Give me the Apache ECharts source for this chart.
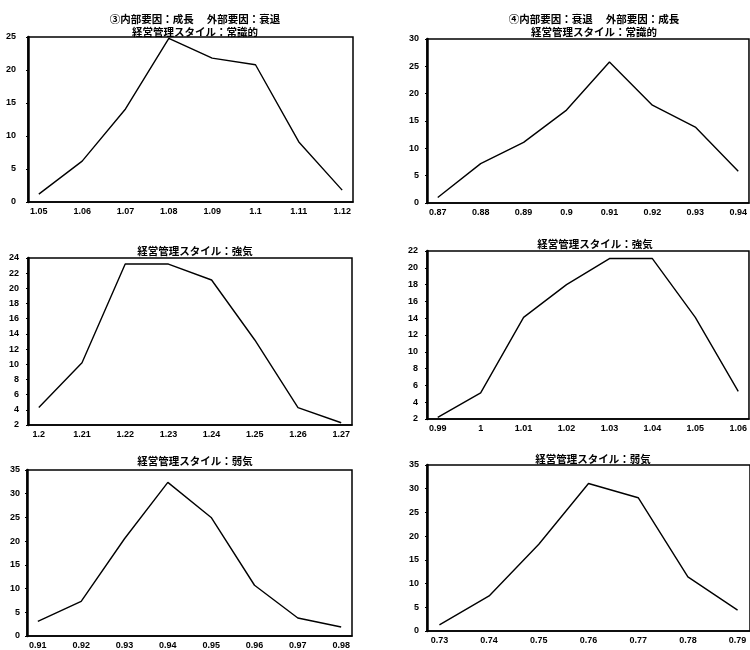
<!DOCTYPE html>
<html><head><meta charset="utf-8">
<script src="https://cdn.jsdelivr.net/npm/echarts@6/dist/echarts.min.js"></script>
<style>html,body{margin:0;padding:0;background:#fff}#c{width:750px;height:650px}</style>
</head><body><div id="c"></div>
<script>
// Titles
const titles = [
  '③内部要因：成長　 外部要因：衰退\n経営管理スタイル：常識的',
  '④内部要因：衰退　 外部要因：成長\n経営管理スタイル：常識的',
  '経営管理スタイル：強気',
  '経営管理スタイル：強気',
  '経営管理スタイル：弱気',
  '経営管理スタイル：弱気'
];
// Categories (x tick labels)
const xLabels1 = ['1.05','1.06','1.07','1.08','1.09','1.1','1.11','1.12'];
const xLabels2 = ['0.87','0.88','0.89','0.9','0.91','0.92','0.93','0.94'];
const xLabels3 = ['1.2','1.21','1.22','1.23','1.24','1.25','1.26','1.27'];
const xLabels4 = ['0.99','1','1.01','1.02','1.03','1.04','1.05','1.06'];
const xLabels5 = ['0.91','0.92','0.93','0.94','0.95','0.96','0.97','0.98'];
const xLabels6 = ['0.73','0.74','0.75','0.76','0.77','0.78','0.79'];
// Series values
const values1 = [1.2, 6.2, 14.1, 24.8, 21.8, 20.8, 9.1, 1.8];
const values2 = [1.0, 7.2, 11.1, 17.0, 25.8, 17.9, 13.9, 5.8];
const values3 = [4.3, 10.2, 23.2, 23.2, 21.1, 13.2, 4.3, 2.3];
const values4 = [2.2, 5.1, 14.1, 18.0, 21.1, 21.1, 14.1, 5.3];
const values5 = [3.1, 7.3, 20.5, 32.4, 25.0, 10.7, 3.8, 1.9];
const values6 = [1.3, 7.4, 18.3, 31.1, 28.1, 11.4, 4.4];
// Y axis ranges
const yMin = [0, 0, 2, 2, 0, 0];
const yMax = [25, 30, 24, 22, 35, 35];
const yStep = [5, 5, 2, 2, 5, 5];

const xLabelSets = [xLabels1, xLabels2, xLabels3, xLabels4, xLabels5, xLabels6];
const valueSets = [values1, values2, values3, values4, values5, values6];

// layout
const grids = [
  {left: 28, top: 37, width: 325, height: 165},
  {left: 427, top: 39, width: 328, height: 164},
  {left: 28, top: 258, width: 324, height: 167},
  {left: 427, top: 251, width: 328, height: 168},
  {left: 27, top: 470, width: 325, height: 166},
  {left: 427, top: 465, width: 325, height: 166}
];
const titlePos = [
  {x: 190, y: 8}, {x: 589, y: 8},
  {x: 190, y: 240}, {x: 590, y: 233},
  {x: 190, y: 450}, {x: 588, y: 448}
];
const yLabelMargin = [12, 8, 9, 9, 7, 8];

const tickFont = {fontFamily: 'Liberation Sans', fontWeight: 'bold', fontSize: 9, color: '#000'};

const option = {
  backgroundColor: '#fff',
  animation: false,
  title: titles.map((t, i) => ({
    text: t,
    left: titlePos[i].x,
    top: titlePos[i].y,
    textAlign: 'center',
    textStyle: {fontFamily: 'Noto Sans CJK JP', fontWeight: 'bold', fontSize: 10.5, lineHeight: 13, color: '#000'}
  })),
  grid: grids.map(g => Object.assign({show: true, borderColor: '#000', borderWidth: 1.5, backgroundColor: '#fff'}, g)),
  xAxis: xLabelSets.map((labs, i) => ({
    type: 'value',
    gridIndex: i,
    min: -0.25,
    max: labs.length - 0.75,
    splitLine: {show: false},
    axisLine: {show: true, onZero: false, lineStyle: {color: '#000', width: 1.5}},
    axisTick: {show: false},
    axisLabel: Object.assign({
      customValues: labs.map((_, k) => k),
      formatter: v => labs[Math.round(v)],
      margin: 5
    }, tickFont)
  })),
  yAxis: yMin.map((mn, i) => ({
    type: 'value',
    gridIndex: i,
    min: mn,
    max: yMax[i],
    interval: yStep[i],
    splitLine: {show: false},
    axisLine: {show: true, onZero: false, lineStyle: {color: '#000', width: 2.5}},
    axisTick: {show: true, length: 2, lineStyle: {color: '#000', width: 1}},
    axisLabel: Object.assign({margin: yLabelMargin[i]}, tickFont)
  })),
  series: valueSets.map((vals, i) => ({
    type: 'line',
    xAxisIndex: i,
    yAxisIndex: i,
    showSymbol: false,
    symbol: 'none',
    lineStyle: {color: '#000', width: 1.4},
    data: vals.map((v, k) => [k, v])
  }))
};
const chart = echarts.init(document.getElementById('c'), null, {renderer: 'canvas'});
chart.setOption(option);
</script>
</body></html>
